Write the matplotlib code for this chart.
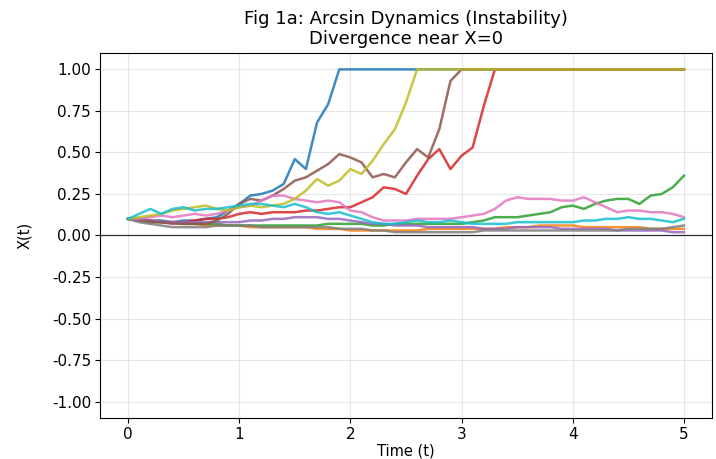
import numpy as np
import matplotlib
matplotlib.use("Agg")
import matplotlib.pyplot as plt

# time grid (step 0.1)
t = np.round(np.arange(0, 5.01, 0.1), 2)

# paths, values (clipped at 1.0)
blue = [0.10, 0.10, 0.09, 0.09, 0.08, 0.09, 0.09, 0.10, 0.11, 0.15,
        0.19, 0.24, 0.25, 0.27, 0.31, 0.46, 0.40, 0.68, 0.79, 1.00,
        1.00, 1.00, 1.00, 1.00, 1.00, 1.00, 1.00, 1.00, 1.00, 1.00,
        1.00, 1.00, 1.00, 1.00, 1.00, 1.00, 1.00, 1.00, 1.00, 1.00,
        1.00, 1.00, 1.00, 1.00, 1.00, 1.00, 1.00, 1.00, 1.00, 1.00,
        1.00]
orange = [0.10, 0.09, 0.09, 0.08, 0.08, 0.07, 0.07, 0.06, 0.06, 0.06,
          0.06, 0.05, 0.05, 0.05, 0.05, 0.05, 0.05, 0.04, 0.04, 0.04,
          0.03, 0.03, 0.03, 0.03, 0.03, 0.03, 0.03, 0.04, 0.04, 0.04,
          0.04, 0.04, 0.04, 0.04, 0.05, 0.05, 0.05, 0.06, 0.06, 0.06,
          0.06, 0.05, 0.05, 0.05, 0.05, 0.05, 0.05, 0.04, 0.04, 0.04,
          0.04]
green = [0.10, 0.09, 0.08, 0.08, 0.08, 0.07, 0.07, 0.07, 0.07, 0.06,
         0.06, 0.06, 0.06, 0.06, 0.06, 0.06, 0.06, 0.06, 0.07, 0.07,
         0.07, 0.07, 0.06, 0.06, 0.07, 0.07, 0.07, 0.07, 0.07, 0.07,
         0.07, 0.08, 0.09, 0.11, 0.11, 0.11, 0.12, 0.13, 0.14, 0.17,
         0.18, 0.16, 0.19, 0.21, 0.22, 0.22, 0.19, 0.24, 0.25, 0.29,
         0.36]
red = [0.10, 0.09, 0.09, 0.08, 0.08, 0.08, 0.09, 0.10, 0.10, 0.11,
       0.13, 0.14, 0.13, 0.14, 0.14, 0.14, 0.15, 0.15, 0.16, 0.17,
       0.17, 0.20, 0.23, 0.29, 0.28, 0.25, 0.36, 0.46, 0.52, 0.40,
       0.48, 0.53, 0.78, 1.00, 1.00, 1.00, 1.00, 1.00, 1.00, 1.00,
       1.00, 1.00, 1.00, 1.00, 1.00, 1.00, 1.00, 1.00, 1.00, 1.00,
       1.00]
purple = [0.10, 0.09, 0.09, 0.08, 0.08, 0.08, 0.08, 0.08, 0.08, 0.08,
          0.08, 0.09, 0.09, 0.10, 0.10, 0.11, 0.11, 0.11, 0.10, 0.10,
          0.09, 0.08, 0.07, 0.07, 0.06, 0.06, 0.06, 0.05, 0.05, 0.05,
          0.05, 0.05, 0.04, 0.04, 0.04, 0.05, 0.05, 0.05, 0.05, 0.04,
          0.04, 0.04, 0.04, 0.04, 0.03, 0.03, 0.03, 0.03, 0.03, 0.02,
          0.02]
brown = [0.10, 0.09, 0.08, 0.08, 0.07, 0.07, 0.07, 0.07, 0.09, 0.13,
         0.19, 0.22, 0.21, 0.24, 0.28, 0.33, 0.35, 0.39, 0.43, 0.49,
         0.47, 0.44, 0.35, 0.37, 0.35, 0.44, 0.52, 0.47, 0.64, 0.93,
         1.00, 1.00, 1.00, 1.00, 1.00, 1.00, 1.00, 1.00, 1.00, 1.00,
         1.00, 1.00, 1.00, 1.00, 1.00, 1.00, 1.00, 1.00, 1.00, 1.00,
         1.00]
pink = [0.10, 0.10, 0.11, 0.12, 0.11, 0.12, 0.13, 0.12, 0.13, 0.15,
        0.17, 0.18, 0.21, 0.24, 0.24, 0.22, 0.21, 0.20, 0.21, 0.20,
        0.15, 0.14, 0.11, 0.09, 0.09, 0.09, 0.10, 0.10, 0.10, 0.10,
        0.11, 0.12, 0.13, 0.16, 0.21, 0.23, 0.22, 0.22, 0.22, 0.21,
        0.21, 0.23, 0.20, 0.17, 0.14, 0.15, 0.15, 0.14, 0.14, 0.13,
        0.11]
gray = [0.10, 0.08, 0.07, 0.06, 0.05, 0.05, 0.05, 0.05, 0.06, 0.06,
        0.06, 0.06, 0.05, 0.05, 0.05, 0.05, 0.05, 0.05, 0.05, 0.04,
        0.04, 0.04, 0.03, 0.03, 0.02, 0.02, 0.02, 0.02, 0.02, 0.02,
        0.02, 0.02, 0.03, 0.03, 0.03, 0.03, 0.03, 0.03, 0.03, 0.03,
        0.03, 0.03, 0.03, 0.03, 0.03, 0.04, 0.04, 0.04, 0.04, 0.05,
        0.06]
olive = [0.10, 0.11, 0.12, 0.13, 0.15, 0.16, 0.17, 0.18, 0.16, 0.15,
         0.17, 0.18, 0.17, 0.18, 0.19, 0.22, 0.27, 0.34, 0.30, 0.33,
         0.40, 0.37, 0.45, 0.55, 0.64, 0.80, 1.00, 1.00, 1.00, 1.00,
         1.00, 1.00, 1.00, 1.00, 1.00, 1.00, 1.00, 1.00, 1.00, 1.00,
         1.00, 1.00, 1.00, 1.00, 1.00, 1.00, 1.00, 1.00, 1.00, 1.00,
         1.00]
cyan = [0.10, 0.13, 0.16, 0.13, 0.16, 0.17, 0.15, 0.16, 0.16, 0.17,
        0.18, 0.19, 0.19, 0.18, 0.17, 0.19, 0.17, 0.14, 0.13, 0.14,
        0.12, 0.10, 0.08, 0.07, 0.07, 0.08, 0.09, 0.08, 0.08, 0.09,
        0.08, 0.07, 0.07, 0.07, 0.07, 0.08, 0.08, 0.08, 0.08, 0.08,
        0.08, 0.09, 0.09, 0.10, 0.10, 0.11, 0.10, 0.10, 0.09, 0.08,
        0.10]

paths = [blue, orange, green, red, purple, brown, pink, gray, olive, cyan]

fig = plt.figure(figsize=(7.16, 4.59), dpi=100)
ax = fig.add_axes([0.140, 0.089, 0.854, 0.796])

for p in paths:
    ax.plot(t, p, linewidth=1.8, alpha=0.85)

ax.axhline(0, color='k', linewidth=0.9, alpha=0.8)
ax.set_ylim(-1.1, 1.1)
ax.set_yticks([-1.0, -0.75, -0.5, -0.25, 0.0, 0.25, 0.5, 0.75, 1.0])
ax.yaxis.set_major_formatter(matplotlib.ticker.FormatStrFormatter('%.2f'))
ax.grid(True, alpha=0.3)
ax.tick_params(labelsize=11, pad=3)
ax.set_title("Fig 1a: Arcsin Dynamics (Instability)\nDivergence near X=0", fontsize=13)
ax.set_xlabel("Time (t)", fontsize=10.5, labelpad=1)
ax.set_ylabel("X(t)", fontsize=10.5, labelpad=14)

fig.savefig("out.png", dpi=100)
